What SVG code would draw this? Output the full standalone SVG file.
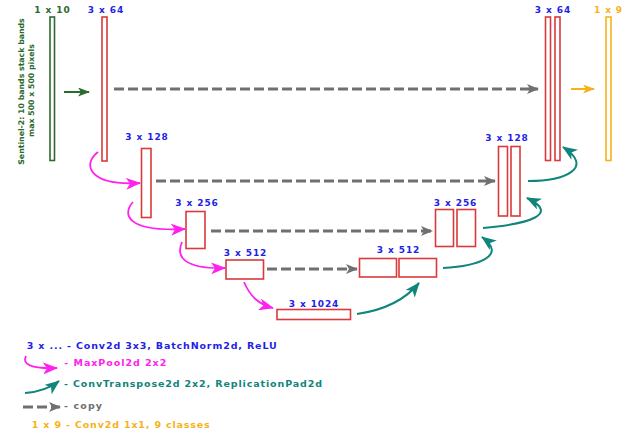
<svg xmlns="http://www.w3.org/2000/svg" width="627" height="431" viewBox="0 0 627 431">
<style>
text{font-family:"DejaVu Sans","Liberation Sans",sans-serif;font-weight:bold;font-size:9px;letter-spacing:0.9px}
.lbl{fill:#1f1fe6;text-anchor:middle}
.leg{font-size:9.5px;letter-spacing:0}
.vert{font-size:7.8px;letter-spacing:0;fill:#2d6a2d;text-anchor:middle}
.blk{fill:none;stroke:#d93a3a;stroke-width:1.6}
.copy{fill:none;stroke:#707070;stroke-width:3;stroke-dasharray:10 4}
.pool{fill:none;stroke:#ff22ee;stroke-width:1.8}
.up{fill:none;stroke:#0f857b;stroke-width:2}
</style>
<defs>
<marker id="ag" markerUnits="userSpaceOnUse" markerWidth="12" markerHeight="10" refX="11" refY="5" orient="auto"><path d="M0,0 L12,5 L0,10 L3,5 z" fill="#707070"/></marker>
<marker id="am" markerUnits="userSpaceOnUse" markerWidth="15" markerHeight="12" refX="14" refY="6" orient="auto"><path d="M0,0 L15,6 L0,12 L4,6 z" fill="#ff22ee"/></marker>
<marker id="at" markerUnits="userSpaceOnUse" markerWidth="15" markerHeight="12" refX="14" refY="6" orient="auto"><path d="M0,0 L15,6 L0,12 L4,6 z" fill="#0f857b"/></marker>
<marker id="agr" markerUnits="userSpaceOnUse" markerWidth="12" markerHeight="9" refX="11" refY="4.5" orient="auto"><path d="M0,0 L12,4.5 L0,9 L3,4.5 z" fill="#2d6a2d"/></marker>
<marker id="ay" markerUnits="userSpaceOnUse" markerWidth="12" markerHeight="9" refX="11" refY="4.5" orient="auto"><path d="M0,0 L12,4.5 L0,9 L3,4.5 z" fill="#f5b319"/></marker>
</defs>
<rect width="627" height="431" fill="#fff"/>

<g id="input-note">
<text class="vert" transform="rotate(-90 24 91.5)" x="24" y="91.5">Sentinel-2: 10 bands stack bands</text>
<text class="vert" transform="rotate(-90 33.5 90.5)" x="33.5" y="90.5">max 500 x 500 pixels</text>
</g>
<g id="input"><rect x="50" y="17" width="4.5" height="143.5" fill="none" stroke="#2d6a2d" stroke-width="1.6"/><text x="52.5" y="13" text-anchor="middle" fill="#2d6a2d">1 x 10</text></g>
<g id="enc64"><rect class="blk" x="102" y="17" width="5" height="144"/><text class="lbl" x="106" y="13">3 x 64</text></g>
<g id="enc128"><rect class="blk" x="141.5" y="148.5" width="9.5" height="69"/><text class="lbl" x="147" y="140">3 x 128</text></g>
<g id="enc256"><rect class="blk" x="186" y="211.5" width="19" height="37"/><text class="lbl" x="197" y="206">3 x 256</text></g>
<g id="enc512"><rect class="blk" x="226" y="260" width="37.5" height="19"/><text class="lbl" x="245.5" y="256">3 x 512</text></g>
<g id="bottleneck"><rect class="blk" x="277" y="309.5" width="73.5" height="10"/><text class="lbl" x="314" y="306.5">3 x 1024</text></g>
<g id="dec512"><rect class="blk" x="359.5" y="258.5" width="37" height="18.5"/><rect class="blk" x="399" y="258.5" width="37.5" height="18.5"/><text class="lbl" x="398.5" y="252.5">3 x 512</text></g>
<g id="dec256"><rect class="blk" x="435.5" y="209.5" width="18" height="37"/><rect class="blk" x="457" y="209.5" width="18.5" height="37"/><text class="lbl" x="455.5" y="205.5">3 x 256</text></g>
<g id="dec128"><rect class="blk" x="498.5" y="146.5" width="9" height="69.5"/><rect class="blk" x="511" y="146.5" width="9" height="69.5"/><text class="lbl" x="507" y="140.5">3 x 128</text></g>
<g id="dec64"><rect class="blk" x="545.5" y="17" width="5" height="143.5"/><rect class="blk" x="555" y="17" width="5" height="143.5"/><text class="lbl" x="553" y="13">3 x 64</text></g>
<g id="output"><rect x="606" y="17" width="5" height="143.5" fill="none" stroke="#f5b319" stroke-width="1.6"/><text x="608.5" y="13" text-anchor="middle" fill="#f5b319">1 x 9</text></g>

<g id="connectors">
<line x1="64" y1="92" x2="89" y2="92" stroke="#2d6a2d" stroke-width="2" marker-end="url(#agr)"/>
<line x1="571" y1="89" x2="594" y2="89" stroke="#f5b319" stroke-width="2" marker-end="url(#ay)"/>
<line class="copy" x1="114" y1="89" x2="538" y2="89" marker-end="url(#ag)"/>
<line class="copy" x1="156" y1="181" x2="495" y2="181" marker-end="url(#ag)"/>
<line class="copy" x1="211" y1="231" x2="432" y2="231" marker-end="url(#ag)"/>
<line class="copy" x1="267" y1="269" x2="357" y2="269" marker-end="url(#ag)"/>
<path class="pool" d="M98 152 C82 164,88 186,140 183" marker-end="url(#am)"/>
<path class="pool" d="M133 202 C122 214,126 232,185 229" marker-end="url(#am)"/>
<path class="pool" d="M182 242 C175 258,186 269,225 268" marker-end="url(#am)"/>
<path class="pool" d="M244 282 C250 296,258 304,273 308" marker-end="url(#am)"/>
<path class="up" d="M357 314 C385 310,405 300,419 283" marker-end="url(#at)"/>
<path class="up" d="M443 268 C478 266,508 256,482 237" marker-end="url(#at)"/>
<path class="up" d="M483 228 C530 224,560 214,527 198" marker-end="url(#at)"/>
<path class="up" d="M528 181 C565 181,595 168,563 147" marker-end="url(#at)"/>
</g>

<g id="legend">
<text class="leg" x="26.7" y="348.7" fill="#1f1fe6" textLength="250" lengthAdjust="spacing">3 x ... - Conv2d 3x3, BatchNorm2d, ReLU</text>
<path class="pool" d="M26 356 C22 364,30 369,57 368" marker-end="url(#am)"/>
<text class="leg" x="64.3" y="366" fill="#ff22ee" textLength="102" lengthAdjust="spacing">- MaxPool2d 2x2</text>
<path class="up" d="M25 393 C40 392,50 388,59 381" marker-end="url(#at)"/>
<text class="leg" x="64" y="386.7" fill="#0f857b" textLength="258" lengthAdjust="spacing">- ConvTranspose2d 2x2, ReplicationPad2d</text>
<line class="copy" x1="23" y1="407" x2="60" y2="407" marker-end="url(#ag)"/>
<text class="leg" x="64" y="408.5" fill="#707070" textLength="38" lengthAdjust="spacing">- copy</text>
<text class="leg" x="31.7" y="428" fill="#f5b319" textLength="178" lengthAdjust="spacing">1 x 9 - Conv2d 1x1, 9 classes</text>
</g>
</svg>
